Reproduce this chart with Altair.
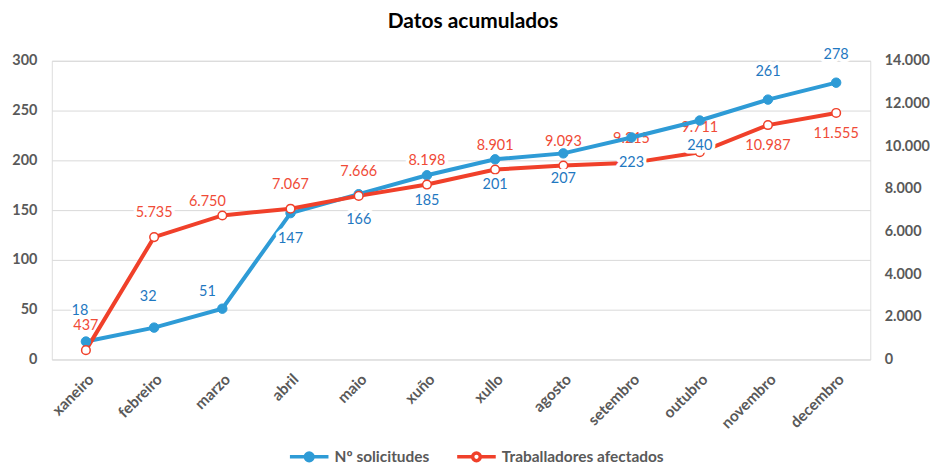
import altair as alt
import pandas as pd

months = ["xaneiro", "febreiro", "marzo", "abril", "maio", "xuño", "xullo",
          "agosto", "setembro", "outubro", "novembro", "decembro"]
solicitudes = [18, 32, 51, 147, 166, 185, 201, 207, 223, 240, 261, 278]
traballadores = [437, 5735, 6750, 7067, 7666, 8198, 8901, 9093, 9215, 9711, 10987, 11555]

# label placement (style only)
pos_sol = ["upleft", "upleft", "left", "below", "below", "below", "below", "below",
           "below", "below", "above", "above"]
pos_trab = ["above", "above", "left", "above", "above", "above", "above", "above",
            "above", "above", "below", "below"]

series_names = ["Nº solicitudes", "Traballadores afectados"]

FONT = "Lato"
BLUE = "#2E9BD6"
BLUE_TXT = "#1F78C1"
RED = "#F0402A"
RED_TXT = "#F04B37"
GRAY = "#595959"
GRID = "#D9D9D9"

df = pd.DataFrame({"mes": months, "sol": solicitudes, "trab": traballadores,
                   "pos_sol": pos_sol, "pos_trab": pos_trab})

base = alt.Chart(df)

x_enc = alt.X("mes:N", sort=months, title=None,
              axis=alt.Axis(labelAngle=-45, labelFont=FONT, labelFontSize=15.5,
                            labelFontWeight="bold", labelColor=GRAY, domain=False,
                            ticks=False, labelPadding=12, grid=False))

scale_l = alt.Scale(domain=[0, 300], nice=False, zero=True)
scale_r = alt.Scale(domain=[0, 14000], nice=False, zero=True)

axis_l = alt.Axis(orient="left", values=[0, 50, 100, 150, 200, 250, 300], grid=True,
                  gridColor=GRID, gridWidth=1, domain=False, ticks=False,
                  labelFont=FONT, labelFontSize=14.5, labelFontWeight="bold",
                  labelColor=GRAY, labelPadding=15, title=None)
axis_r = alt.Axis(orient="right", values=list(range(0, 14001, 2000)), grid=False,
                  domain=False, ticks=False, labelFont=FONT, labelFontSize=14.5,
                  labelFontWeight="bold", labelColor=GRAY, labelPadding=14, title=None,
                  labelExpr="replace(format(datum.value, ','), ',', '.')")

sym_path = ("M-1,0H-0.2M0.2,0H1"
            "M-0.2,0A0.2,0.2 0 1,1 0.2,0A0.2,0.2 0 1,1 -0.2,0Z")
legend = alt.Legend(title=None, orient="none", legendX=237, legendY=376,
                    direction="horizontal", labelLimit=400,
                    symbolType=sym_path, symbolSize=1500, symbolStrokeWidth=3.5,
                    labelFont=FONT, labelFontSize=15.5, labelFontWeight="bold",
                    labelColor=GRAY, columnPadding=20, labelOffset=4)

stroke_scale = alt.Scale(domain=series_names, range=[BLUE, RED])
fill_scale = alt.Scale(domain=series_names, range=[BLUE, "#FFFFFF"])


def y_of(field, scale, axis=None):
    if axis is None:
        return alt.Y(f"{field}:Q", scale=scale, axis=None)
    return alt.Y(f"{field}:Q", scale=scale, axis=axis)


def line_layer(field, name, scale, axis):
    return (base.transform_calculate(serie=f"'{name}'")
            .mark_line(strokeWidth=4)
            .encode(x=x_enc, y=y_of(field, scale, axis),
                    stroke=alt.Stroke("serie:N", scale=stroke_scale, legend=legend)))


def point_layer(field, name, scale, size, sw):
    return (base.transform_calculate(serie=f"'{name}'")
            .mark_point(shape="circle", filled=True, size=size, strokeWidth=sw, opacity=1)
            .encode(x=x_enc, y=y_of(field, scale),
                    stroke=alt.Stroke("serie:N", scale=stroke_scale, legend=legend),
                    fill=alt.Fill("serie:N", scale=fill_scale, legend=legend)))


def label_layers(field, posfield, scale, offsets, color, expr):
    layers = []
    for halo in (True, False):
        for pos, (dx, dy) in offsets.items():
            mk = dict(dx=dx, dy=dy, font=FONT, fontSize=14.5, baseline="middle",
                      align="center")
            if halo:
                mk.update(fill="white", stroke="white", strokeWidth=7, strokeJoin="round")
            else:
                mk.update(fill=color)
            layers.append(
                base.transform_filter(alt.datum[posfield] == pos)
                .transform_calculate(lab=expr)
                .mark_text(**mk)
                .encode(x=x_enc, y=y_of(field, scale), text="lab:N"))
    return layers


blue_labels = label_layers("sol", "pos_sol", scale_l,
                           {"above": (0, -28), "upleft": (-6, -31), "left": (-15, -17),
                            "below": (0, 26)}, BLUE_TXT,
                           "format(datum.sol, 'd')")
red_labels = label_layers("trab", "pos_trab", scale_r,
                          {"above": (0, -24), "left": (-15, -14), "below": (0, 21)},
                          RED_TXT,
                          "replace(format(datum.trab, ','), ',', '.')")

layers = (red_labels
          + [line_layer("sol", series_names[0], scale_l, axis_l),
             line_layer("trab", series_names[1], scale_r, axis_r),
             point_layer("sol", series_names[0], scale_l, 90, 1),
             point_layer("trab", series_names[1], scale_r, 75, 1.5)]
          + blue_labels)

chart = (alt.layer(*layers)
         .resolve_scale(y="independent")
         .properties(width=822, height=300,
                     padding={"left": 3, "top": 2, "right": 0, "bottom": 0},
                     title=alt.TitleParams("Datos acumulados", font=FONT, fontSize=21,
                                           fontWeight="bold", color="#000000",
                                           anchor="middle", offset=15, dx=12))
         .configure_view(strokeWidth=0)
         .configure(background="white"))

chart.save("out.html", embed_options={"renderer": "svg", "actions": False})
